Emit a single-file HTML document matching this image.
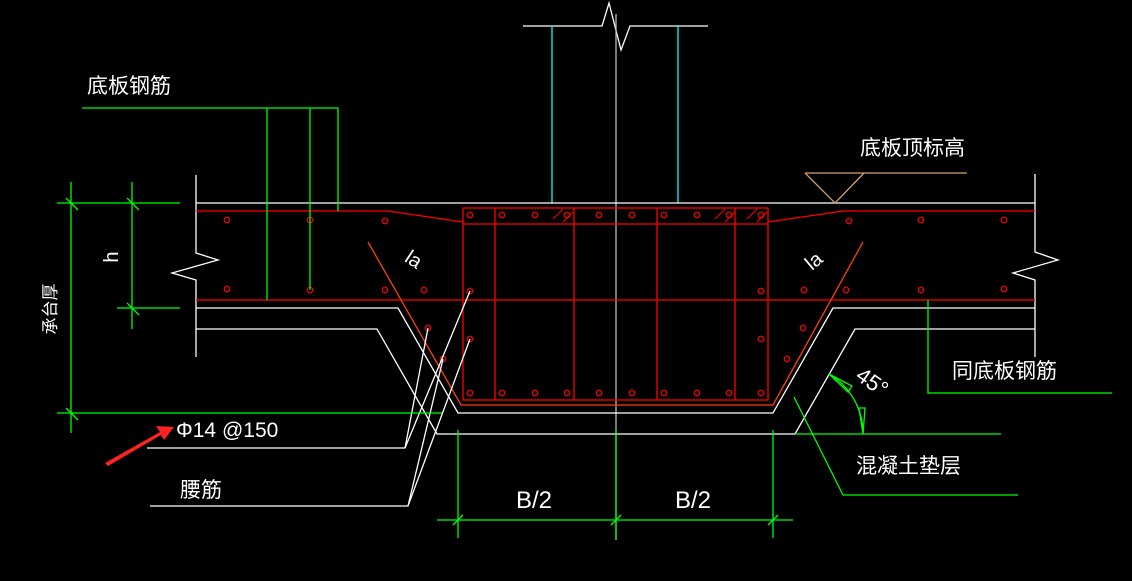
<!DOCTYPE html>
<html><head><meta charset="utf-8"><style>
html,body{margin:0;padding:0;background:#000;}
svg{display:block;}
text{font-family:"Liberation Sans","Noto Sans CJK SC",sans-serif;fill:#fff;}
</style></head><body>
<svg width="1132" height="581" viewBox="0 0 1132 581" xmlns="http://www.w3.org/2000/svg">
<rect width="1132" height="581" fill="#000"/>
<g fill="none" stroke-width="1.3">
<polyline stroke="#fff" points="523,26 602,26 609,3 621,50 630,26 708,26"/>
<line stroke="#0ff" x1="552" y1="26" x2="552" y2="203"/>
<line stroke="#0ff" x1="678" y1="26" x2="678" y2="203"/>
<line stroke="#bbb" x1="616" y1="14" x2="616" y2="540"/>
<line stroke="#fff" x1="196" y1="203" x2="1035" y2="203"/>
<polyline stroke="#fff" points="196,175 196,253 218,260 172,273 196,280 196,357"/>
<polyline stroke="#fff" points="1035,174 1035,252 1058,260 1013,273 1035,280 1035,357"/>
<polyline stroke="#fff" points="196,308 398,308 458,413 773,413 833,308 1035,308"/>
<polyline stroke="#fff" points="196,329 377,329 437,434 795,434 855,329 1035,329"/>
<polyline stroke="#f00" points="196,211 388,211 463,222"/>
<polyline stroke="#f00" points="1035,211 843,211 768,222"/>
<line stroke="#f00" x1="196" y1="300" x2="1035" y2="300"/>
<rect stroke="#f00" x="463" y="208" width="305" height="192"/>
<line stroke="#f00" x1="463" y1="224" x2="768" y2="224"/>
<line stroke="#f00" x1="495" y1="208" x2="495" y2="400"/>
<line stroke="#f00" x1="574" y1="208" x2="574" y2="400"/>
<line stroke="#f00" x1="657" y1="208" x2="657" y2="400"/>
<line stroke="#f00" x1="735" y1="208" x2="735" y2="400"/>
<polyline stroke="#ff4010" points="368,242 461,405 773,405 863,242"/>
<g stroke="#f00" stroke-width="1">
<line x1="553" y1="219" x2="563" y2="209"/><line x1="563" y1="222" x2="573" y2="212"/>
<line x1="715" y1="219" x2="725" y2="209"/><line x1="725" y1="222" x2="735" y2="212"/>
<line x1="747" y1="219" x2="757" y2="209"/><line x1="757" y1="222" x2="767" y2="212"/>
</g>
<g stroke="#f00" stroke-width="1.2">
<circle cx="470" cy="215" r="2.8"/><circle cx="502" cy="215" r="2.8"/><circle cx="535" cy="215" r="2.8"/><circle cx="567" cy="215" r="2.8"/><circle cx="599" cy="215" r="2.8"/><circle cx="632" cy="215" r="2.8"/><circle cx="664" cy="215" r="2.8"/><circle cx="697" cy="215" r="2.8"/><circle cx="729" cy="215" r="2.8"/><circle cx="761" cy="215" r="2.8"/>
<circle cx="470" cy="393" r="2.8"/><circle cx="502" cy="393" r="2.8"/><circle cx="535" cy="393" r="2.8"/><circle cx="567" cy="393" r="2.8"/><circle cx="599" cy="393" r="2.8"/><circle cx="632" cy="393" r="2.8"/><circle cx="664" cy="393" r="2.8"/><circle cx="697" cy="393" r="2.8"/><circle cx="729" cy="393" r="2.8"/><circle cx="761" cy="393" r="2.8"/>
<circle cx="470" cy="291" r="2.8"/><circle cx="470" cy="339" r="2.8"/><circle cx="761" cy="291" r="2.8"/><circle cx="761" cy="339" r="2.8"/>
<circle cx="227" cy="220" r="2.8"/><circle cx="310" cy="220" r="2.8"/><circle cx="385" cy="221" r="2.8"/>
<circle cx="849" cy="221" r="2.8"/><circle cx="921" cy="220" r="2.8"/><circle cx="1004" cy="220" r="2.8"/>
<circle cx="227" cy="289" r="2.8"/><circle cx="310" cy="290" r="2.8"/><circle cx="385" cy="290" r="2.8"/><circle cx="424" cy="290" r="2.8"/>
<circle cx="804" cy="290" r="2.8"/><circle cx="846" cy="290" r="2.8"/><circle cx="921" cy="290" r="2.8"/><circle cx="1004" cy="289" r="2.8"/>
<circle cx="428" cy="328" r="2.8"/><circle cx="443" cy="359" r="2.8"/><circle cx="803" cy="328" r="2.8"/><circle cx="787" cy="359" r="2.8"/>
</g>
<polyline stroke="#fff" points="147,448 405,448 470,291"/>
<line stroke="#fff" x1="405" y1="448" x2="428" y2="328"/>
<polyline stroke="#fff" points="150,506 408,506 470,339"/>
<line stroke="#fff" x1="408" y1="506" x2="443" y2="359"/>
<g stroke="#0f0">
<line x1="71" y1="182" x2="71" y2="433"/>
<line x1="57" y1="203" x2="180" y2="203"/>
<line x1="57" y1="413" x2="442" y2="413"/>
<line x1="132" y1="182" x2="132" y2="329"/>
<line x1="117" y1="308" x2="180" y2="308"/>
<line x1="66" y1="198" x2="78" y2="210"/><line x1="66" y1="408" x2="78" y2="420"/>
<line x1="127" y1="198" x2="139" y2="210"/><line x1="127" y1="303" x2="139" y2="315"/>
<polyline points="82,108 338,108 338,211"/>
<line x1="267" y1="108" x2="267" y2="300"/>
<line x1="310" y1="108" x2="310" y2="290"/>
<polyline points="928,300 928,393 1112,393"/>
<polyline points="794,397 843,495 1018,495"/>
<line x1="795" y1="434" x2="1001" y2="434"/>
<path d="M829,374 A69,69 0 0 1 863,434"/>
<polygon points="829,374 852,386 848,392"/>
<polygon points="859,408 865,408 863,434"/>
<line x1="458" y1="430" x2="458" y2="538"/>
<line x1="616" y1="430" x2="616" y2="538"/>
<line x1="773" y1="430" x2="773" y2="538"/>
<line x1="437" y1="520" x2="793" y2="520"/>
<line x1="453" y1="525" x2="463" y2="515"/><line x1="611" y1="525" x2="621" y2="515"/><line x1="768" y1="525" x2="778" y2="515"/>
</g>
<line stroke="#d0a070" x1="805" y1="173" x2="967" y2="173"/>
<polyline stroke="#d0a070" points="805,173 835,203 864,173"/>
</g>
<polygon fill="#f22" points="105,463 160,432 156,426 174,427 164,440 161,435 108,466"/>
<text x="87" y="93" font-size="21">底板钢筋</text>
<text x="860" y="155" font-size="21">底板顶标高</text>
<text x="952" y="378" font-size="21">同底板钢筋</text>
<text x="856" y="473" font-size="21">混凝土垫层</text>
<text x="180" y="497" font-size="21">腰筋</text>
<text x="176" y="437" font-size="21">Φ14 @150</text>
<text x="516" y="508" font-size="24">B/2</text>
<text x="675" y="508" font-size="24">B/2</text>
<text transform="translate(56,309) rotate(-90)" font-size="17" text-anchor="middle">承台厚</text>
<text transform="translate(118,257) rotate(-90)" font-size="20" text-anchor="middle">h</text>
<text transform="translate(410,265) rotate(33)" font-size="20" text-anchor="middle">la</text>
<text transform="translate(818,266) rotate(-40)" font-size="20" text-anchor="middle">la</text>
<text transform="translate(868,388) rotate(35)" font-size="22" text-anchor="middle">45°</text>
</svg>
</body></html>
